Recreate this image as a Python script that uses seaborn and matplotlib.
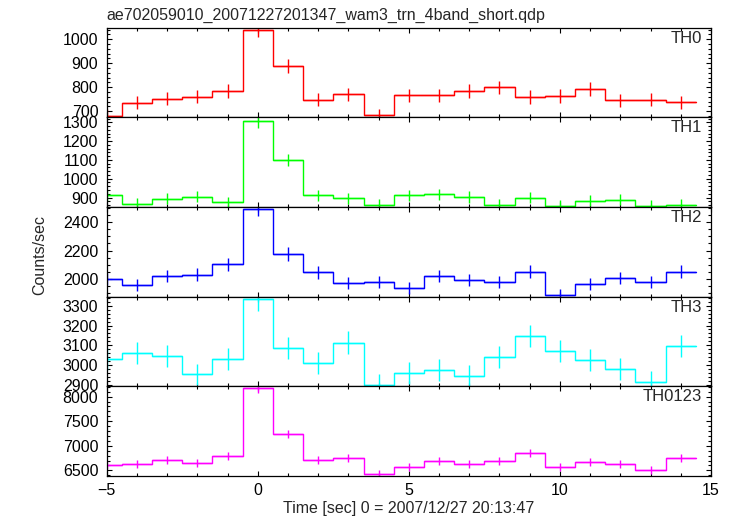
import numpy as np
import pandas as pd
import matplotlib
matplotlib.use("Agg")
import matplotlib.pyplot as plt
from matplotlib.ticker import MultipleLocator, AutoMinorLocator
import seaborn as sns

# bin centres (1 s bins), rates
time = [-5, -4, -3, -2, -1, 0, 1, 2, 3, 4, 5, 6, 7, 8, 9, 10, 11, 12, 13, 14]

th0 = [682, 736, 752, 761, 785, 1040, 888, 747, 770, 685,
       766, 766, 785, 799, 759, 763, 793, 745, 747, 738]
th0_err = [26, 27, 27, 28, 28, 32, 30, 27, 28, 26,
           28, 28, 28, 28, 28, 28, 28, 27, 27, 27]

th1 = [911, 866, 893, 905, 875, 1305, 1098, 911, 896, 862,
       911, 916, 902, 862, 900, 857, 884, 888, 857, 861]
th1_err = [30, 29, 30, 30, 30, 36, 33, 30, 30, 29,
           30, 30, 30, 29, 30, 29, 30, 30, 29, 29]

th2 = [2000, 1957, 2021, 2029, 2102, 2493, 2176, 2048, 1971, 1979,
       1936, 2021, 1993, 1979, 2050, 1886, 1964, 2007, 1979, 2050]
th2_err = [45, 44, 45, 45, 46, 50, 47, 45, 44, 44,
           44, 45, 45, 44, 45, 43, 44, 45, 44, 45]

th3 = [3029, 3063, 3046, 2954, 3032, 3332, 3088, 3012, 3114, 2900,
       2961, 2976, 2946, 3042, 3149, 3073, 3027, 2981, 2915, 3098]
th3_err = [55, 55, 55, 54, 55, 58, 56, 55, 56, 54,
           54, 55, 54, 55, 56, 55, 55, 55, 54, 56]

th0123 = [6609, 6622, 6704, 6643, 6785, 8170, 7240, 6710, 6744, 6419,
          6561, 6683, 6622, 6683, 6853, 6575, 6670, 6622, 6500, 6744]
th0123_err = [81, 81, 82, 82, 82, 90, 85, 82, 82, 80,
              81, 82, 81, 82, 83, 81, 82, 81, 81, 82]

panels = [
    ("TH0", th0, th0_err, "#ff0000", (675, 1049), 100),
    ("TH1", th1, th1_err, "#00ff00", (850, 1327), 100),
    ("TH2", th2, th2_err, "#0000ff", (1876, 2507), 200),
    ("TH3", th3, th3_err, "#00ffff", (2893, 3346), 100),
    ("TH0123", th0123, th0123_err, "#ff00ff", (6385, 8210), 500),
]

sns.set_theme(style="white")
plt.rcParams["font.family"] = ["Liberation Sans", "DejaVu Sans"]

fig = plt.figure(figsize=(7.33, 5.16), dpi=100)
gs = fig.add_gridspec(5, 1, left=0.1455, right=0.970, top=0.9467, bottom=0.0775, hspace=0)

edges = [t - 0.5 for t in time] + [time[-1] + 0.5]
axes = []
for i, (name, vals, errs, color, ylim, major) in enumerate(panels):
    ax = fig.add_subplot(gs[i], sharex=axes[0] if axes else None)
    axes.append(ax)
    df = pd.DataFrame({"time": time, "rate": vals})
    sns.histplot(data=df, x="time", weights="rate", bins=edges, element="step",
                 fill=False, color=color, linewidth=1.0, ax=ax)
    ax.errorbar(time, vals, xerr=0.5, yerr=errs, fmt="none", ecolor=color,
                elinewidth=1.0)
    ax.set_xlim(-5, 15)
    ax.set_ylim(*ylim)
    ax.set_ylabel("")
    ax.set_xlabel("")
    ax.yaxis.set_major_locator(MultipleLocator(major))
    ax.yaxis.set_minor_locator(AutoMinorLocator())
    ax.xaxis.set_major_locator(MultipleLocator(5))
    ax.xaxis.set_minor_locator(MultipleLocator(1))
    ax.tick_params(which="both", direction="in", top=True, right=True,
                   left=True, bottom=True, colors="black", labelsize=11.5)
    ax.tick_params(which="major", length=3.5, width=0.8)
    ax.tick_params(which="minor", length=2, width=0.8)
    ax.tick_params(axis="y", pad=6)
    ax.tick_params(axis="x", pad=5)
    for sp in ax.spines.values():
        sp.set_color("black")
        sp.set_linewidth(0.9)
    ax.text(0.985, 0.965, name, transform=ax.transAxes, ha="right", va="top",
            fontsize=12)
    if i < len(panels) - 1:
        ax.tick_params(axis="x", labelbottom=False)

axes[-1].set_xlabel("Time [sec] 0 = 2007/12/27 20:13:47", fontsize=11.5, labelpad=2)
fig.text(0.054, 0.505, "Counts/sec", rotation=90, ha="center", va="center", fontsize=11.5)
fig.text(0.1455, 0.971, "ae702059010_20071227201347_wam3_trn_4band_short.qdp",
         ha="left", va="center", fontsize=11.5)

fig.savefig("out.png", dpi=100)
